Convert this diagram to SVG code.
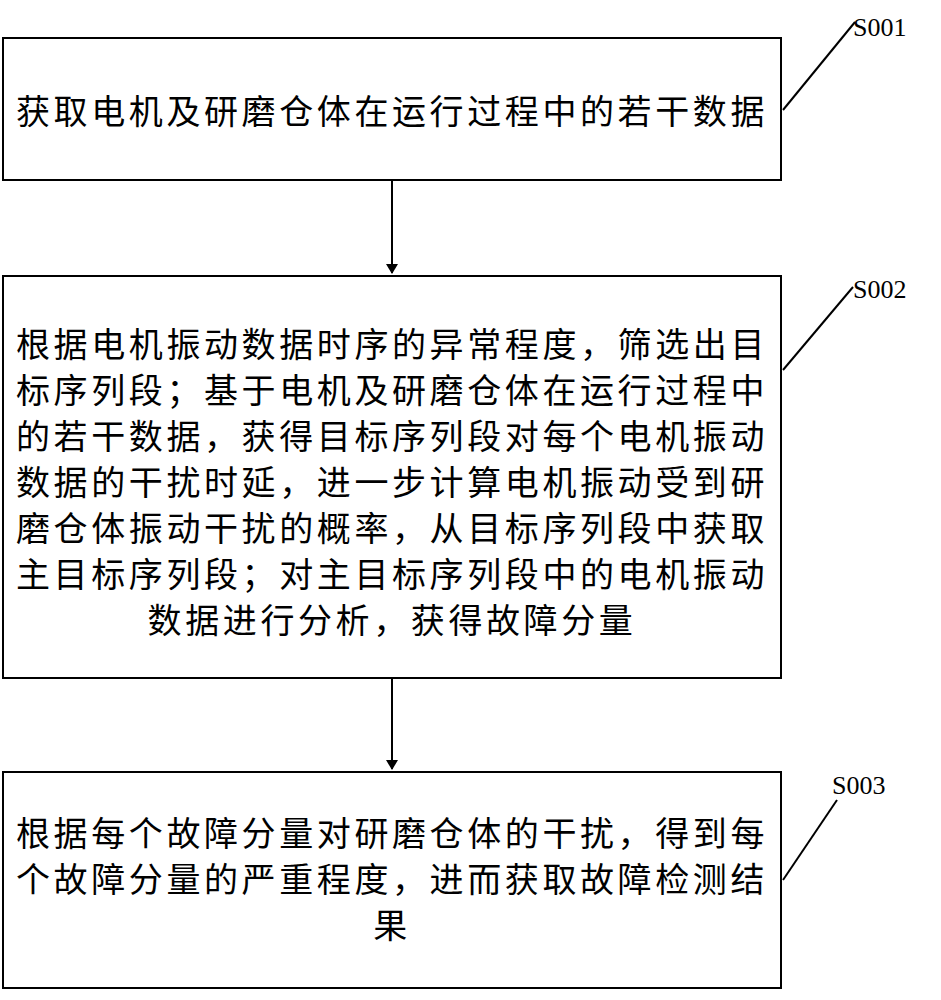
<svg xmlns="http://www.w3.org/2000/svg" width="941" height="1000" viewBox="0 0 941 1000">
<defs>
<style>
.b{fill:#fff;stroke:#000;stroke-width:2}
.t{font-family:"Noto Sans CJK SC","Noto Sans",sans-serif;font-size:34px;letter-spacing:3.6px;fill:#000;text-anchor:middle}
.l{font-family:"Liberation Serif","DejaVu Serif",serif;font-size:26px;fill:#000}
.c{stroke:#000;stroke-width:2;fill:none}
</style>
<marker id="a" markerWidth="10" markerHeight="12" refX="9" refY="6" orient="auto" markerUnits="userSpaceOnUse"><path d="M0,0L10,6L0,12z" fill="#000"/></marker>
</defs>
<g id="n1"><rect class="b" x="3" y="38" width="778" height="142"/><text class="t" x="392" y="124">获取电机及研磨仓体在运行过程中的若干数据</text></g>
<g id="n2"><rect class="b" x="3" y="276" width="778" height="402"/>
<text class="t"><tspan x="392" y="357">根据电机振动数据时序的异常程度，筛选出目</tspan><tspan x="392" y="403">标序列段；基于电机及研磨仓体在运行过程中</tspan><tspan x="392" y="449">的若干数据，获得目标序列段对每个电机振动</tspan><tspan x="392" y="495">数据的干扰时延，进一步计算电机振动受到研</tspan><tspan x="392" y="541">磨仓体振动干扰的概率，从目标序列段中获取</tspan><tspan x="392" y="587">主目标序列段；对主目标序列段中的电机振动</tspan><tspan x="392" y="633">数据进行分析，获得故障分量</tspan></text></g>
<g id="n3"><rect class="b" x="3" y="772" width="778" height="216"/>
<text class="t"><tspan x="392" y="846">根据每个故障分量对研磨仓体的干扰，得到每</tspan><tspan x="392" y="892">个故障分量的严重程度，进而获取故障检测结</tspan><tspan x="392" y="938">果</tspan></text></g>
<g id="labels">
<text class="l" x="853" y="36">S001</text><text class="l" x="853" y="298">S002</text><text class="l" x="832" y="794">S003</text>
</g>
<g id="connectors">
<line class="c" x1="392" y1="180" x2="392" y2="273" marker-end="url(#a)"/>
<line class="c" x1="392" y1="678" x2="392" y2="769" marker-end="url(#a)"/>
<line class="c" x1="783" y1="110" x2="855" y2="22"/>
<line class="c" x1="783" y1="370" x2="853" y2="287"/>
<line class="c" x1="783" y1="880" x2="837" y2="800"/>
</g>
</svg>
